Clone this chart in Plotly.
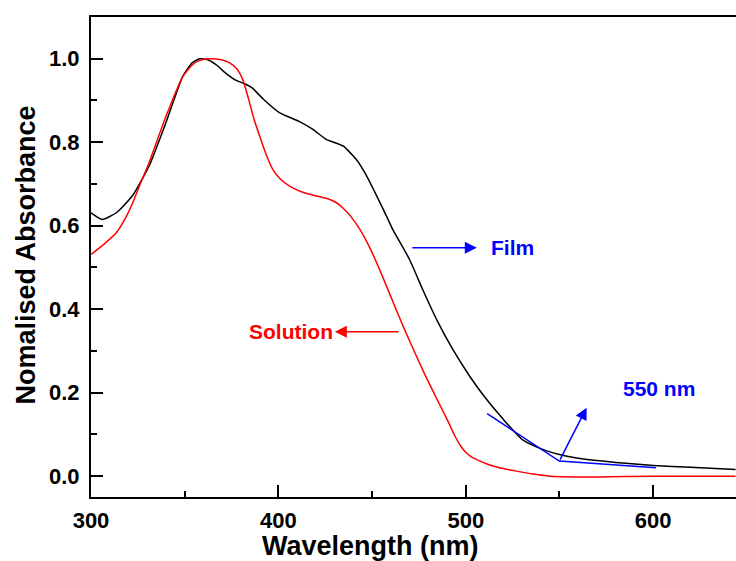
import plotly.graph_objects as go

# Film (black) spectrum
film_wl = [300, 306, 313.5, 322, 331, 340, 349, 354, 358, 362, 367, 372, 377.5, 382, 386, 392,
           400.5, 411, 418, 425.5, 434.5, 441.5, 447, 452.5, 458, 461, 470, 477, 485, 493,
           502, 510, 520, 530, 540, 550, 560, 573, 587, 600, 620, 644]
film_abs = [0.631, 0.615, 0.631, 0.671, 0.743, 0.847, 0.958, 0.99, 1.0, 0.998, 0.985, 0.965, 0.948,
            0.940, 0.930, 0.903, 0.871, 0.850, 0.832, 0.807, 0.791, 0.759, 0.72, 0.671, 0.62, 0.591,
            0.519, 0.447, 0.37, 0.304, 0.24, 0.19, 0.136, 0.088, 0.066, 0.052, 0.043, 0.036,
            0.030, 0.0256, 0.021, 0.016]

# Solution (red) spectrum
sol_wl = [300, 307, 313.5, 318, 322, 326, 331, 340, 349, 354, 358, 363.5, 369, 374, 378, 381, 384,
          387, 390, 393.5, 397, 401, 406, 413, 420.5, 426, 431, 435, 438.5, 443.5, 449, 454,
          460, 466, 472, 478, 484, 490, 494, 497, 500, 503, 507, 512, 518, 527, 536, 545, 570, 600, 644]
sol_abs = [0.531, 0.556, 0.583, 0.615, 0.652, 0.697, 0.751, 0.862, 0.958, 0.985, 0.996, 1.0, 0.998,
           0.99, 0.975, 0.95, 0.905, 0.855, 0.815, 0.77, 0.735, 0.712, 0.695, 0.68, 0.671, 0.665,
           0.655, 0.64, 0.623, 0.591, 0.545, 0.495, 0.43, 0.365, 0.304, 0.245, 0.19, 0.136, 0.098,
           0.074, 0.057, 0.046, 0.037, 0.028, 0.02, 0.012, 0.005, 0.0, -0.002, 0.0, 0.0]

# Onset tangent construction (550 nm)
tangent_wl = [511.4, 549.9, 601.5]
tangent_abs = [0.150, 0.036, 0.020]
onset_label = "550 nm"
onset_arrow_tip = (564.5, 0.164)

# Label arrows
film_arrow = {"tail": (470.7, 0.547), "head": (505.9, 0.547), "text": "Film", "text_x": 512.3}
sol_arrow = {"tail": (464.9, 0.346), "head": (430.1, 0.346), "text": "Solution", "text_x": 430.1}

x_ticks = [300, 400, 500, 600]
y_ticks = [0.0, 0.2, 0.4, 0.6, 0.8, 1.0]

FONT = "Liberation Sans, Arial, sans-serif"
BLUE = "#0000FF"
RED = "#FF0000"

fig = go.Figure()
fig.add_trace(go.Scatter(x=film_wl, y=film_abs, mode="lines", line=dict(color="black", width=1.5, shape="spline", smoothing=0.5), name="Film"))
fig.add_trace(go.Scatter(x=sol_wl, y=sol_abs, mode="lines", line=dict(color=RED, width=1.5, shape="spline", smoothing=0.5), name="Solution"))
fig.add_trace(go.Scatter(x=tangent_wl, y=tangent_abs, mode="lines", line=dict(color=BLUE, width=1.5), name="onset"))

ann = []
# Film arrow
ann.append(dict(x=film_arrow["head"][0], y=film_arrow["head"][1], ax=film_arrow["tail"][0], ay=film_arrow["tail"][1],
                xref="x", yref="y", axref="x", ayref="y", showarrow=True, arrowhead=2, arrowsize=1.6,
                arrowwidth=1.5, arrowcolor=BLUE, text=""))
ann.append(dict(x=film_arrow["text_x"], y=film_arrow["head"][1], xref="x", yref="y", text="Film", showarrow=False,
                xanchor="left", yanchor="middle", font=dict(family=FONT, size=21, color=BLUE, weight="bold")))
# Solution arrow
ann.append(dict(x=sol_arrow["head"][0], y=sol_arrow["head"][1], ax=sol_arrow["tail"][0], ay=sol_arrow["tail"][1],
                xref="x", yref="y", axref="x", ayref="y", showarrow=True, arrowhead=2, arrowsize=1.6,
                arrowwidth=1.5, arrowcolor=RED, text=""))
ann.append(dict(x=sol_arrow["text_x"], y=sol_arrow["head"][1], xref="x", yref="y", text="Solution", showarrow=False,
                xanchor="right", yanchor="middle", font=dict(family=FONT, size=21, color=RED, weight="bold")))
# Onset arrow
ann.append(dict(x=onset_arrow_tip[0], y=onset_arrow_tip[1], ax=tangent_wl[1], ay=tangent_abs[1],
                xref="x", yref="y", axref="x", ayref="y", showarrow=True, arrowhead=2, arrowsize=1.6,
                arrowwidth=1.5, arrowcolor=BLUE, text=""))
ann.append(dict(x=583, y=0.211, xref="x", yref="y", text=onset_label, showarrow=False,
                xanchor="left", yanchor="middle", font=dict(family=FONT, size=21, color=BLUE, weight="bold")))
# Axis titles
ann.append(dict(x=0.4326, y=-0.066, xref="paper", yref="paper", text="Wavelength (nm)", showarrow=False,
                xanchor="center", yanchor="top", font=dict(family=FONT, size=27, color="black", weight="bold")))
ann.append(dict(x=-0.101, y=0.505, xref="paper", yref="paper", text="Nomalised Absorbance", showarrow=False,
                textangle=-90, xanchor="center", yanchor="middle", font=dict(family=FONT, size=27, color="black", weight="bold")))

fig.update_layout(
    width=736, height=561,
    margin=dict(l=91, r=0, t=17, b=64, autoexpand=False),
    paper_bgcolor="white", plot_bgcolor="white",
    showlegend=False,
    annotations=ann,
    font=dict(family=FONT, color="black"),
)
fig.update_xaxes(range=[300, 644.2], tickvals=x_ticks, ticks="inside", ticklen=12, tickwidth=1.5, tickcolor="black",
                 minor=dict(dtick=50, tick0=300, ticks="inside", ticklen=6, tickwidth=1.5, tickcolor="black"),
                 showline=True, linecolor="black", linewidth=2, mirror=True, showgrid=False, zeroline=False,
                 automargin=False,
                 tickfont=dict(family=FONT, size=22, color="black", weight="bold"), ticklabelstandoff=3)
fig.update_yaxes(range=[-0.05, 1.1], tickvals=y_ticks, tickformat=".1f", ticks="inside", ticklen=12, tickwidth=1.5,
                 tickcolor="black", automargin=False,
                 minor=dict(dtick=0.1, tick0=0, ticks="inside", ticklen=6, tickwidth=1.5, tickcolor="black"),
                 showline=True, linecolor="black", linewidth=2, mirror=False, showgrid=False, zeroline=False,
                 tickfont=dict(family=FONT, size=22, color="black", weight="bold"), ticklabelstandoff=5)

fig.write_html("out.html", config={"displayModeBar": False},
               post_script="document.body.style.margin='0';document.body.style.overflow='hidden';")
